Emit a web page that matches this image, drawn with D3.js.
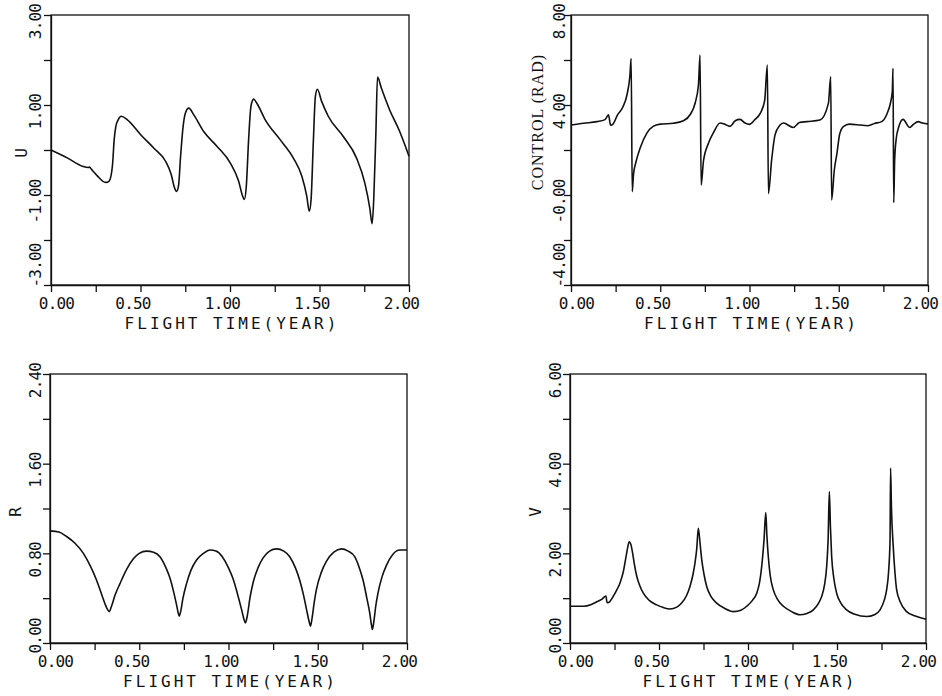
<!DOCTYPE html>
<html>
<head>
<meta charset="utf-8">
<script src="https://cdn.jsdelivr.net/npm/d3@7"></script>
<style>
  html, body { margin: 0; padding: 0; background: #fff; }
  svg { display: block; }
</style>
</head>
<body>
<svg id="chart" width="942" height="696"></svg>
<script>
// ---------------- DATA ----------------
const xTickValues = [0, 0.25, 0.5, 0.75, 1, 1.25, 1.5, 1.75, 2];
const xTickLabels = {0: "0.00", 0.5: "0.50", 1: "1.00", 1.5: "1.50", 2: "2.00"};
const xTitle = "FLIGHT TIME(YEAR)";

// U (top-left)
const uTicks = [-3, -2, -1, 0, 1, 2, 3];
const uTickLabels = {3: "3.00", 1: "1.00", "-1": "-1.00", "-3": "-3.00"};
const uSeries = [
  [0, 0.0], [0.093, -0.18], [0.176, -0.36], [0.208, -0.39], [0.215, -0.38], [0.226, -0.43],
  [0.26, -0.58], [0.288, -0.69], [0.306, -0.72], [0.325, -0.69], [0.343, -0.36], [0.353, 0.23],
  [0.362, 0.52], [0.375, 0.67], [0.393, 0.75], [0.427, 0.67], [0.501, 0.34], [0.575, 0.04],
  [0.64, -0.25], [0.672, -0.55], [0.69, -0.84], [0.701, -0.92], [0.712, -0.81], [0.724, -0.14],
  [0.738, 0.52], [0.751, 0.82], [0.77, 0.93], [0.798, 0.78], [0.853, 0.41], [0.928, 0.08],
  [1.002, -0.29], [1.048, -0.69], [1.071, -1.03], [1.08, -1.10], [1.091, -0.81], [1.104, 0.23],
  [1.117, 0.97], [1.132, 1.13], [1.15, 1.04], [1.197, 0.67], [1.28, 0.23], [1.354, -0.18],
  [1.401, -0.58], [1.429, -1.03], [1.443, -1.36], [1.453, -1.10], [1.466, 0.23], [1.477, 1.19],
  [1.488, 1.35], [1.512, 1.08], [1.549, 0.75], [1.633, 0.30], [1.707, -0.18], [1.753, -0.73],
  [1.781, -1.29], [1.794, -1.64], [1.803, -1.10], [1.815, 0.38], [1.824, 1.62], [1.846, 1.37],
  [1.892, 0.89], [1.948, 0.41], [2.0, -0.14]
];

// CONTROL (top-right)
const cTicks = [-4, -2, 0, 2, 4, 6, 8];
const cTickLabels = {8: "8.00", 4: "4.00", 0: "-0.00", "-4": "-4.00"};
const cTitle = "CONTROL (RAD)";
const cSeries = [
  [0, 3.11], [0.07, 3.19], [0.145, 3.26], [0.19, 3.35], [0.21, 3.56], [0.222, 3.10], [0.235, 3.15],
  [0.26, 3.55], [0.29, 3.9], [0.315, 4.5], [0.33, 5.3], [0.337, 6.07], [0.343, 0.15], [0.35, 0.9],
  [0.365, 1.5], [0.388, 2.1], [0.425, 2.75], [0.46, 3.05], [0.5, 3.15], [0.574, 3.19], [0.63, 3.3],
  [0.67, 3.6], [0.696, 4.1], [0.714, 4.9], [0.723, 6.22], [0.729, 0.44], [0.742, 1.5], [0.77, 2.3],
  [0.8, 2.8], [0.835, 3.2], [0.86, 3.15], [0.891, 3.05], [0.92, 3.3], [0.947, 3.36], [0.975, 3.2],
  [0.999, 3.14], [1.03, 3.35], [1.06, 3.63], [1.085, 4.2], [1.1, 5.78], [1.106, 0.07], [1.124, 1.56],
  [1.143, 2.67], [1.17, 3.1], [1.19, 3.2], [1.245, 3.0], [1.28, 3.22], [1.32, 3.26], [1.395, 3.33],
  [1.442, 4.07], [1.455, 5.26], [1.46, -0.22], [1.475, 1.1], [1.49, 1.85], [1.505, 2.7], [1.526, 3.04],
  [1.56, 3.15], [1.62, 3.11], [1.66, 3.08], [1.7, 3.18], [1.74, 3.26], [1.77, 3.6], [1.79, 4.1],
  [1.8, 4.6], [1.804, 5.63], [1.808, -0.34], [1.813, 1.5], [1.822, 2.5], [1.835, 3.0], [1.86, 3.36],
  [1.897, 3.0], [1.92, 3.15], [1.944, 3.26], [1.97, 3.2], [2.0, 3.16]
];

// R (bottom-left)
const rTicks = [0, 0.4, 0.8, 1.2, 1.6, 2.0, 2.4];
const rTickLabels = {2.4: "2.40", 1.6: "1.60", 0.8: "0.80", 0: "0.00"};
const rSeries = [
  [0, 1.0], [0.05, 0.99], [0.093, 0.95], [0.14, 0.89], [0.187, 0.80], [0.225, 0.69], [0.261, 0.56],
  [0.29, 0.43], [0.308, 0.35], [0.322, 0.30], [0.332, 0.28], [0.345, 0.33], [0.365, 0.43], [0.392, 0.53],
  [0.43, 0.66], [0.466, 0.75], [0.5, 0.80], [0.541, 0.82], [0.58, 0.81], [0.616, 0.77], [0.65, 0.67],
  [0.672, 0.58], [0.695, 0.44], [0.709, 0.34], [0.718, 0.27], [0.724, 0.24], [0.732, 0.28], [0.745, 0.40],
  [0.765, 0.53], [0.79, 0.65], [0.821, 0.74], [0.86, 0.80], [0.896, 0.83], [0.93, 0.82], [0.965, 0.77],
  [1.0, 0.67], [1.026, 0.57], [1.05, 0.44], [1.073, 0.30], [1.087, 0.21], [1.095, 0.18], [1.105, 0.24],
  [1.12, 0.40], [1.138, 0.54], [1.165, 0.67], [1.194, 0.76], [1.23, 0.82], [1.269, 0.84], [1.31, 0.82],
  [1.343, 0.77], [1.375, 0.67], [1.399, 0.56], [1.42, 0.43], [1.437, 0.30], [1.452, 0.19], [1.459, 0.15],
  [1.468, 0.22], [1.48, 0.36], [1.493, 0.48], [1.52, 0.63], [1.549, 0.73], [1.59, 0.81], [1.633, 0.84],
  [1.67, 0.82], [1.707, 0.77], [1.735, 0.66], [1.754, 0.56], [1.775, 0.40], [1.791, 0.27], [1.8, 0.17],
  [1.806, 0.12], [1.815, 0.20], [1.825, 0.33], [1.838, 0.45], [1.86, 0.59], [1.884, 0.69], [1.92, 0.79],
  [1.959, 0.83], [2.0, 0.83]
];

// V (bottom-right)
const vTicks = [0, 1, 2, 3, 4, 5, 6];
const vTickLabels = {6: "6.00", 4: "4.00", 2: "2.00", 0: "0.00"};
const vSeries = [
  [0, 0.82], [0.075, 0.82], [0.12, 0.86], [0.15, 0.92], [0.18, 0.98], [0.202, 1.05], [0.208, 0.90],
  [0.215, 0.90], [0.243, 1.04], [0.265, 1.2], [0.281, 1.34], [0.3, 1.6], [0.315, 1.93], [0.325, 2.15],
  [0.333, 2.26], [0.342, 2.2], [0.352, 2.0], [0.362, 1.75], [0.375, 1.49], [0.39, 1.3], [0.412, 1.11],
  [0.445, 0.95], [0.487, 0.85], [0.525, 0.79], [0.562, 0.76], [0.6, 0.8], [0.627, 0.89], [0.655, 1.06],
  [0.674, 1.26], [0.692, 1.55], [0.702, 1.78], [0.712, 2.1], [0.721, 2.56], [0.73, 2.25], [0.74, 1.86],
  [0.752, 1.55], [0.768, 1.26], [0.79, 1.05], [0.824, 0.89], [0.87, 0.77], [0.918, 0.70], [0.96, 0.73],
  [0.993, 0.82], [1.025, 0.95], [1.049, 1.11], [1.065, 1.35], [1.077, 1.71], [1.09, 2.3], [1.1, 2.91],
  [1.106, 2.4], [1.114, 1.93], [1.125, 1.5], [1.142, 1.19], [1.165, 0.98], [1.199, 0.82], [1.245, 0.70],
  [1.292, 0.63], [1.33, 0.66], [1.367, 0.74], [1.395, 0.88], [1.414, 1.04], [1.43, 1.3], [1.442, 1.71],
  [1.45, 2.3], [1.457, 3.38], [1.463, 2.6], [1.47, 1.93], [1.482, 1.45], [1.498, 1.11], [1.52, 0.9],
  [1.554, 0.74], [1.6, 0.64], [1.667, 0.59], [1.71, 0.63], [1.742, 0.74], [1.765, 0.95], [1.779, 1.19],
  [1.79, 1.6], [1.798, 2.3], [1.801, 3.9], [1.806, 3.0], [1.816, 2.15], [1.825, 1.6], [1.835, 1.19],
  [1.855, 0.92], [1.891, 0.70], [1.94, 0.6], [2.0, 0.53]
];

// ---------------- DRAW ----------------
const svg = d3.select("#chart");
const MONO = "'DejaVu Sans Mono', 'Liberation Mono', monospace";
const INK = "#111";

const panels = [
  {series: uSeries, yDomain: [-3, 3], yTicks: uTicks, yLabels: uTickLabels, title: "U", serif: false,
   box: {l: 51, r: 409, t: 15, b: 285}, labelX: 16, titlePos: [21, 153]},
  {series: cSeries, yDomain: [-4, 8], yTicks: cTicks, yLabels: cTickLabels, title: cTitle, serif: true,
   box: {l: 571, r: 928, t: 15, b: 285}, labelX: 12, titlePos: [537, 122]},
  {series: rSeries, yDomain: [0, 2.4], yTicks: rTicks, yLabels: rTickLabels, title: "R", serif: false,
   box: {l: 50, r: 407, t: 374, b: 643}, labelX: 15, titlePos: [15, 512]},
  {series: vSeries, yDomain: [0, 6], yTicks: vTicks, yLabels: vTickLabels, title: "V", serif: false,
   box: {l: 570, r: 926, t: 374, b: 643}, labelX: 15, titlePos: [535, 512]}
];

panels.forEach(p => {
  const b = p.box;
  const x = d3.scaleLinear().domain([0, 2]).range([b.l, b.r]);
  const y = d3.scaleLinear().domain(p.yDomain).range([b.b, b.t]);
  const g = svg.append("g");

  // frame
  g.append("rect")
    .attr("x", b.l).attr("y", b.t)
    .attr("width", b.r - b.l).attr("height", b.b - b.t)
    .attr("fill", "none").attr("stroke", INK).attr("stroke-width", 1.3);

  // x axis
  const xa = g.append("g").attr("transform", `translate(0,${b.b})`)
    .call(d3.axisBottom(x).tickValues(xTickValues).tickSize(7).tickSizeOuter(0)
      .tickFormat(d => xTickLabels[d] || ""));
  xa.select(".domain").attr("stroke", INK).attr("stroke-width", 1.3);
  xa.selectAll(".tick line").attr("stroke", INK).attr("stroke-width", 1.3);
  xa.selectAll(".tick text")
    .attr("y", 24).attr("dy", null)
    .attr("x", d => d === 0 ? 5 : -8)
    .attr("fill", INK)
    .style("font-family", MONO).style("font-size", "16px").style("letter-spacing", "-0.8px");

  // y axis
  const bottomVal = p.yDomain[0];
  const ya = g.append("g").attr("transform", `translate(${b.l},0)`)
    .call(d3.axisLeft(y).tickValues(p.yTicks).tickSize(7).tickSizeOuter(0)
      .tickFormat(d => p.yLabels[d] || ""));
  ya.select(".domain").attr("stroke", INK).attr("stroke-width", 1.3);
  ya.selectAll(".tick line").attr("stroke", INK).attr("stroke-width", 1.3);
  ya.selectAll(".tick text")
    .attr("x", 0).attr("y", 0).attr("dy", null)
    .attr("dominant-baseline", "central")
    .attr("text-anchor", d => d === bottomVal ? "start" : "middle")
    .attr("transform", function(d) {
      const len = (p.yLabels[d] || "").length;
      const off = d === bottomVal ? 10 - 8 * (len - 4) : 6;
      return `translate(${-p.labelX},${off}) rotate(-90)`;
    })
    .attr("fill", INK)
    .style("font-family", MONO).style("font-size", "16px").style("letter-spacing", "-0.8px");

  // x title
  g.append("text")
    .attr("x", (b.l + b.r) / 2 + 2).attr("y", b.b + 44)
    .attr("text-anchor", "middle")
    .attr("fill", INK)
    .style("font-family", MONO).style("font-size", "16px").style("letter-spacing", "3px")
    .text(xTitle);

  // y title
  g.append("text")
    .attr("transform", `translate(${p.titlePos[0]},${p.titlePos[1]}) rotate(-90)`)
    .attr("text-anchor", "middle").attr("dominant-baseline", "central")
    .attr("fill", INK)
    .style("font-family", p.serif ? "'Liberation Serif', 'DejaVu Serif', serif" : MONO)
    .style("font-size", "16px")
    .style("letter-spacing", p.serif ? "1px" : "0px")
    .text(p.title);

  // curve
  const line = d3.line().x(d => x(d[0])).y(d => y(d[1])).curve(d3.curveMonotoneX);
  g.append("path").datum(p.series)
    .attr("d", line)
    .attr("fill", "none").attr("stroke", INK).attr("stroke-width", 1.6)
    .attr("stroke-linejoin", "round");
});
</script>
</body>
</html>
